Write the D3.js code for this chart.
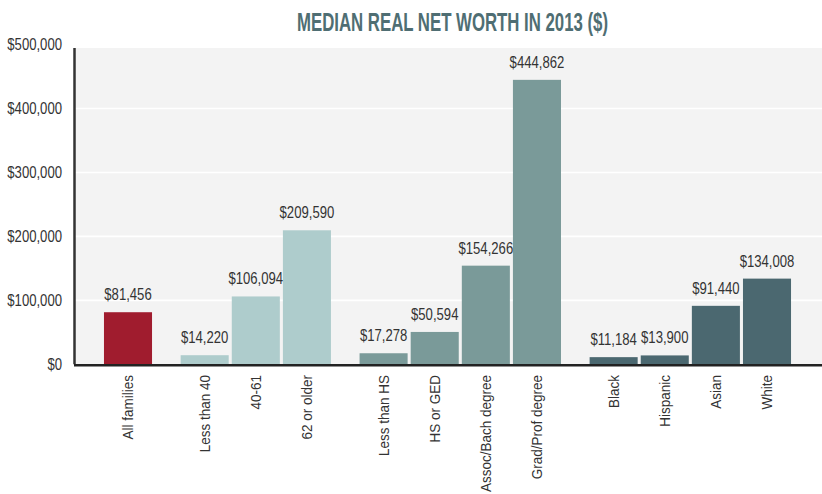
<!DOCTYPE html>
<html>
<head>
<meta charset="utf-8">
<script src="https://cdn.jsdelivr.net/npm/d3@7"></script>
<style>
    body { margin: 0; background: #ffffff; }
    svg { display: block; }
    text { font-family: "Liberation Sans", Arial, sans-serif; }
    .titulo { font-weight: bold; }
</style>
</head>
<body>
<div id="grafica"></div>
<script>
"use strict";

// datos
const categorias = ["All families", "Less than 40", "40-61", "62 or older",
    "Less than HS", "HS or GED", "Assoc/Bach degree", "Grad/Prof degree",
    "Black", "Hispanic", "Asian", "White"];
const valores = [81456, 14220, 106094, 209590, 17278, 50594, 154266, 444862, 11184, 13900, 91440, 134008];
const grupos = ["Todas", "Edad", "Edad", "Edad", "Educacion", "Educacion", "Educacion", "Educacion",
    "Raza", "Raza", "Raza", "Raza"];
const nombresGrupo = ["Todas", "Edad", "Educacion", "Raza"];
const ticksY = [0, 100000, 200000, 300000, 400000, 500000];
const titulo = "MEDIAN REAL NET WORTH IN 2013 ($)";

const width = 822, height = 494;
const margin = { top: 48, right: 0, bottom: 130, left: 74 };
const baseY = 364.3;
const angosto = 0.82; // imita una fuente "narrow"

const colores = d3.scaleOrdinal()
    .domain(nombresGrupo)
    .range(["#a01c2e", "#aecccc", "#7a9a99", "#4b6870"]);

const data = categorias.map((c, i) => ({
    titulo: c,
    valor: valores[i],
    grupo: grupos[i],
    // cada grupo deja medio espacio extra
    pos: i + 0.5 * nombresGrupo.indexOf(grupos[i])
}));

const svg = d3.select("#grafica").append("svg")
    .attr("width", width)
    .attr("height", height);

const x = d3.scaleLinear()
    .domain([0, d3.max(data, d => d.pos)])
    .range([128, 767]);
const paso = x(1) - x(0);
const anchoBarra = paso * 0.94;

const y = d3.scaleLinear()
    .domain([0, 500000])
    .range([baseY, 44.6]);

const formato = d3.format("$,");

// fondo
svg.append("rect")
    .attr("x", margin.left)
    .attr("y", margin.top)
    .attr("width", width - margin.left - margin.right)
    .attr("height", baseY - margin.top)
    .attr("fill", "#f3f3f3");

// lineas guia
svg.append("g").selectAll("line")
    .data(ticksY.filter(t => t > 0))
    .enter().append("line")
    .attr("x1", margin.left)
    .attr("x2", width - margin.right)
    .attr("y1", d => y(d))
    .attr("y2", d => y(d))
    .attr("stroke", "#ffffff")
    .attr("stroke-width", 1.6);

// titulo
svg.append("text")
    .attr("class", "titulo")
    .attr("x", 452.5)
    .attr("y", 31)
    .attr("text-anchor", "middle")
    .attr("fill", "#4f6e73")
    .attr("font-size", 26)
    .attr("textLength", 311)
    .attr("lengthAdjust", "spacingAndGlyphs")
    .text(titulo);

// eje y
const ejeY = svg.append("g")
    .attr("transform", "translate(" + margin.left + ",0)")
    .call(d3.axisLeft(y).tickValues(ticksY).tickSize(0).tickPadding(12)
        .tickFormat(formato));
ejeY.select(".domain").remove();
ejeY.selectAll("text")
    .attr("x", 0)
    .attr("transform", "translate(-12,0) scale(" + angosto + ",1)")
    .attr("font-size", 16)
    .attr("font-family", "'Liberation Sans', Arial, sans-serif")
    .attr("fill", "#333333");

// barras
svg.append("g").selectAll("rect")
    .data(data)
    .enter().append("rect")
    .attr("x", d => x(d.pos) - anchoBarra / 2)
    .attr("y", d => y(d.valor))
    .attr("width", anchoBarra)
    .attr("height", d => y(0) - y(d.valor))
    .attr("fill", d => colores(d.grupo));

// valores sobre las barras
svg.append("g").selectAll("text")
    .data(data)
    .enter().append("text")
    .attr("transform", d => "translate(" + x(d.pos) + "," + (y(d.valor) - 12) + ") scale(" + angosto + ",1)")
    .attr("text-anchor", "middle")
    .attr("font-size", 16)
    .attr("fill", "#333333")
    .text(d => formato(d.valor));

// linea vertical del eje
svg.append("line")
    .attr("x1", margin.left + 0.5)
    .attr("x2", margin.left + 0.5)
    .attr("y1", margin.top)
    .attr("y2", baseY)
    .attr("stroke", "#333333")
    .attr("stroke-width", 2.5);

// linea base
svg.append("line")
    .attr("x1", margin.left)
    .attr("x2", width)
    .attr("y1", baseY + 1)
    .attr("y2", baseY + 1)
    .attr("stroke", "#222222")
    .attr("stroke-width", 2.5);

// etiquetas de categorias
svg.append("g").selectAll("text")
    .data(data)
    .enter().append("text")
    .attr("transform", d => "translate(" + x(d.pos) + "," + 375 + ") rotate(-90) scale(0.9,1)")
    .attr("dy", "0.35em")
    .attr("text-anchor", "end")
    .attr("font-size", 15)
    .attr("fill", "#333333")
    .text(d => d.titulo);
</script>
</body>
</html>
